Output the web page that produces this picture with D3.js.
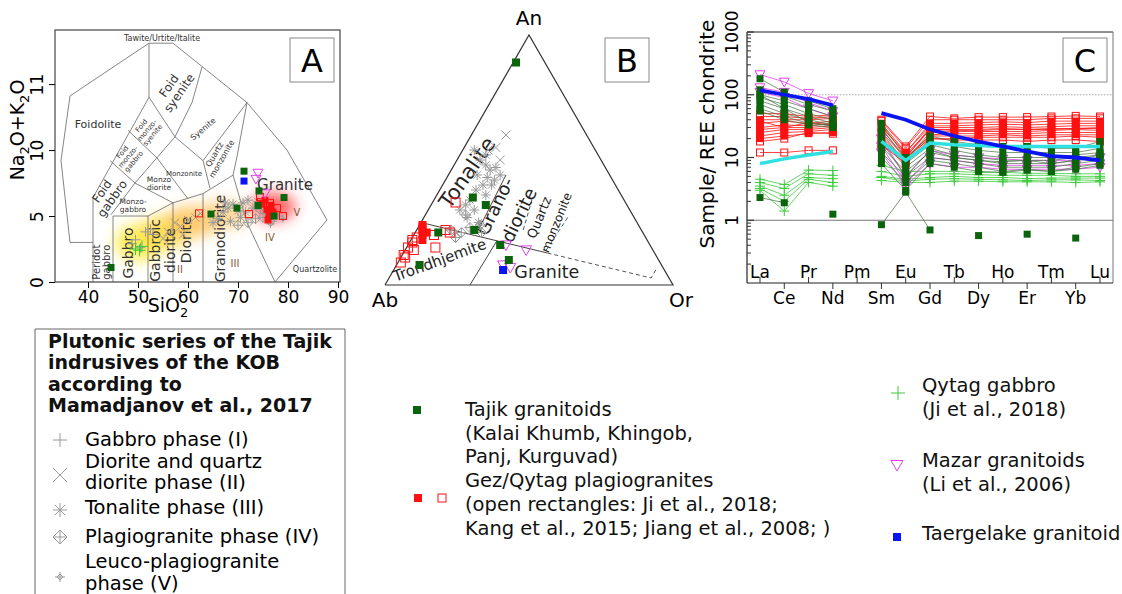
<!DOCTYPE html>
<html>
<head>
<meta charset="utf-8">
<script src="https://cdn.jsdelivr.net/npm/d3@7/dist/d3.min.js"></script>
<style>
  body { margin: 0; background: #fff; }
  svg { display: block; }
  text { font-family: "DejaVu Sans", sans-serif; }
</style>
</head>
<body>
<svg id="fig" width="1122" height="594"></svg>
<script>
'use strict';

// ---------- panel A: TAS (SiO2 vs Na2O+K2O) ----------
const tasTicksX = [40, 50, 60, 70, 80, 90];
const tasTicksY = [0, 5, 10, 15];
const tasTickLabelsY = ['0', '5', '10', '11'];

// field boundaries, [SiO2, alkali]
const tasLines = [
  [[41, 3.0], [36.4, 3.0], [34.6, 9.2], [36.4, 14.1], [52.2, 18.1], [57, 18.1],
   [71.8, 13.6], [79.8, 10], [87.8, 4.7], [77.4, 0]],
  [[41, 0], [41, 6.4]],
  [[45, 0], [45, 5], [52, 5]],
  [[52, 0], [52, 5], [57, 6.0], [63, 6.7], [69, 8.1]],
  [[57, 0], [57, 6.0]],
  [[63, 0], [63, 6.7]],
  [[69, 8.1], [71.8, 4.5], [77.4, 0]],
  [[69, 8.1], [69.8, 9.5], [71.8, 13.6]],
  [[71.8, 13.6], [63, 9.2], [64.4, 7.1]],
  [[57.4, 11], [63, 9.2]],
  [[53.8, 9.4], [60, 6.3]],
  [[52.2, 18.1], [52.2, 14], [41, 6.4]],
  [[52.2, 14], [57.4, 11]],
  [[62.8, 16.3], [60.8, 13.6], [57.4, 11], [49.4, 7.5], [44.6, 5.1]],
  [[49.4, 7.5], [57, 6.0]],
  [[48, 11.5], [53.8, 9.4]],
  [[44.4, 9.2], [49.4, 7.5]]
];

const tasFieldLabels = [
  {t: ['Tawite/Urtite/Italite'], p: [54.8, 18.5], s: 8, r: 0},
  {t: ['Foidolite'], p: [42, 12.0], s: 11, r: 0},
  {t: ['Foid', 'syenite'], p: [57.2, 14.6], s: 12, r: -55},
  {t: ['Foid', 'monzo-', 'syenite'], p: [51.8, 11.5], s: 7, r: -50},
  {t: ['Foid', 'monzo-', 'gabbro'], p: [48, 9.5], s: 7, r: -50},
  {t: ['Foid', 'gabbro'], p: [43.8, 6.6], s: 12, r: -55},
  {t: ['Syenite'], p: [63, 11.6], s: 8, r: -40},
  {t: ['Quartz', 'monzonite'], p: [66, 9.5], s: 8, r: -60},
  {t: ['Monzonite'], p: [59.2, 8.2], s: 7, r: 0},
  {t: ['Monzo', 'diorite'], p: [54.2, 7.5], s: 7.5, r: 0},
  {t: ['Monzo-', 'gabbro'], p: [49, 5.8], s: 7.5, r: 0},
  {t: ['Peridot', 'gabbro'], p: [42.7, 1.5], s: 10, r: -90},
  {t: ['Gabbro'], p: [48, 2.2], s: 14, r: -90},
  {t: ['Gabbroic', 'diorite'], p: [54.9, 2.4], s: 14, r: -90},
  {t: ['Diorite'], p: [59.6, 3.2], s: 14, r: -90},
  {t: ['Granodiorite'], p: [66.4, 3.3], s: 14, r: -90},
  {t: ['Granite'], p: [79.4, 7.4], s: 15, r: 0},
  {t: ['Quartzolite'], p: [85.4, 1.0], s: 8, r: 0}
];
const tasPhaseLabels = [
  {t: 'II', p: [58.4, 0.7]}, {t: 'III', p: [69.4, 1.1]},
  {t: 'IV', p: [76.4, 3.1]}, {t: 'V', p: [81.8, 5.0]}
];

// colour glow of the plutonic series trend
const tasGlow = [[50.4, 3.0], [55.5, 3.8], [61, 4.6], [67, 5.1], [77, 5.7]];

const tasGabbroPhase = [[49.5, 3.2], [50.5, 2.6], [51.5, 3.8], [48.8, 2.9], [52.5, 4.0], [53, 3.6]];
const tasDioritePhase = [[55, 3.3], [57.4, 4.5], [56, 3.8], [58.5, 4.2], [60, 4.7], [61.5, 4.9], [59, 3.6], [62.5, 5.2]];
const tasTonalitePhase = [[66, 4.8], [67, 5.3], [68, 5.6], [69, 5.9], [70, 5.4], [71, 6.0], [72, 6.2],
  [68.5, 4.6], [70.5, 4.9], [73, 5.6], [74, 6.1], [67.5, 6.0], [65, 4.5], [71.5, 5.3]];
const tasPlagioPhase = [[70, 4.3], [72, 4.5], [73.5, 4.8], [75, 4.9], [76, 5.2], [74.5, 5.5]];
const tasLeucoPhase = [[77, 4.6], [78, 5.0], [79, 4.8], [76.5, 4.4]];
const tasQytagGabbro = [[49.5, 2.5], [50.3, 2.4], [50.8, 2.7]];
const tasGezFilled = [[75.8, 5.5], [76.2, 5.0], [76.6, 5.8], [75.4, 6.2], [77, 5.3], [76, 4.7], [74.8, 5.9]];
const tasGezOpen = [[62.2, 5.2], [72.2, 5.15], [74.4, 6.45], [76.4, 6], [77.8, 5.6], [79, 5], [74.6, 6.05]];
const tasMazar = [[74, 8.26], [73.6, 7.8], [75.4, 6.7]];
const tasTajik = [[44.6, 1.1], [71.2, 8.4], [74.2, 6.9], [79.2, 6.4], [69.8, 5.6], [64.6, 5.15], [74, 5.8], [77.2, 5.0]];
const tasTaergelake = [[71.2, 7.65]];

// ---------- panel B: Ab-An-Or, [An %, Or %] ----------
const ternLinesSolid = [
  [[25, 0], [12.8, 50]],
  [[0, 29.5], [17.7, 30]],
  [[21, 21.5], [44, 20]]
];
const ternLinesDashed = [
  [[12.8, 50], [2.8, 91], [6, 91]],
  [[14, 49], [28, 50]],
  [[22, 37], [34, 34]]
];
const ternLabels = [
  {t: 'Tonalite', p: [45, 6], s: 21, r: -55},
  {t: 'Grano-', p: [31.5, 22.5], s: 18, r: -64},
  {t: 'diorite', p: [28, 32.5], s: 18, r: -64},
  {t: 'Quartz', p: [27, 40], s: 13, r: -68},
  {t: 'monzonite', p: [25, 47], s: 12, r: -68},
  {t: 'Trondhjemite', p: [10, 14], s: 15, r: -20},
  {t: 'Granite', p: [5.2, 53.6], s: 17.5, r: 0}
];
const ternTonalitePhase = [[50, 8], [48, 11], [46, 13.5], [44, 10], [43, 14], [47, 15], [40, 14], [40, 17],
  [38, 12.6], [36, 17], [34, 12.5], [32, 12], [30, 11], [30, 16], [27, 15], [25, 20], [42, 17], [44, 18],
  [52, 9], [54, 4]];
const ternDioritePhase = [[60, 12], [55, 11], [50, 15], [54, 8.8]];
const ternPlagioPhase = [[22, 12], [21, 16], [23, 18], [19, 15], [24, 21], [28, 14], [21, 23]];
const ternGezFilled = [[24, 1], [22, 2], [18, 4], [20, 3], [23, 1.5], [21, 4]];
const ternGezOpen = [[12, 0.5], [15, 0.5], [17, 1], [19, 1.5], [15, 10], [21, 12], [22, 10], [33, 8],
  [11, 1.5], [18, 0.5], [9, 1], [14, 3], [20, 7]];
const ternTajik = [[89, 1], [35, 13], [32, 19], [21, 8], [22, 20], [16, 32], [10, 38], [8, 8]];
const ternTaergelake = [[6, 38]];
const ternMazar = [[16, 34], [14, 42], [8, 37], [7, 40]];

// ---------- panel C: REE / chondrite ----------
const ree = ['La', 'Ce', 'Pr', 'Nd', 'Pm', 'Sm', 'Eu', 'Gd', 'Tb', 'Dy', 'Ho', 'Er', 'Tm', 'Yb', 'Lu'];
const reeTicksY = [1, 10, 100, 1000];
const reeTajik = [
  [180, 110, 80, 60, null, 35, 10, 22, 18, 16, 15, 15, 14, 14, 18],
  [120, 95, 70, 55, null, 30, 9, 18, 15, 13, 12, 12, 12, 12, 14],
  [100, 80, 60, 45, null, 25, 8, 16, 13, 11, 10, 10, 10, 11, 12],
  [90, 70, 50, 40, null, 20, 7, 14, 11, 10, 9, 9, 9, 10, 11],
  [80, 60, 45, 35, null, 15, 6, 12, 10, 9, 8, 8, 8, 9, 10],
  [70, 50, 40, 33, null, 12, 5, 10, 9, 8, 7, 7, 7, 8, 9],
  [60, 45, 35, 32, null, 10, 4, 9, 8, 7, 6, 6.5, 6, 7, 8],
  [55, 40, 33, 30, null, 8, 3, 8, 7, 6, 5.8, 6.3, 6, 6.5, 7.5],
  [100, 60, 36, 32, null, 18, 5, 13, 10, 9, 8.5, 9, 8, 9, 11],
  [2.3, 1.9, null, 1.25, null, 0.85, 2.8, 0.7, null, 0.57, null, 0.6, null, 0.52, null]
];
const reeGezOpen = [
  [50, 50, 45, 48, null, 40, 15, 45, 42, 44, 44, 44, 45, 46, 45],
  [45, 45, 42, 45, null, 38, 14, 40, 40, 40, 40, 40, 42, 42, 42],
  [35, 38, 35, 38, null, 30, 12, 32, 32, 33, 34, 33, 34, 35, 35],
  [28, 30, 30, 32, null, 25, 10, 28, 28, 28, 29, 28, 29, 29, 29],
  [22, 25, 26, 28, null, 20, 9, 23, 24, 24, 24, 24, 25, 25, 25],
  [18, 20, 25, 24, null, 16, 8, 20, 20, 21, 21, 21, 21, 22, 21],
  [12, 12, 13, 13, null, 15, 10, 20, 19, 19, 19, 18, 19, 19, 18]
];
const reeGezFilled = [
  [40, 40, 40, 42, null, 35, 12, 35, 35, 36, 37, 36, 38, 38, 38],
  [30, 33, 32, 35, null, 28, 10, 30, 30, 30, 31, 30, 31, 32, 32],
  [25, 28, 28, 30, null, 22, 9, 25, 26, 26, 26, 26, 27, 28, 27],
  [20, 22, 24, 25, null, 18, 8, 22, 22, 22, 23, 22, 23, 23, 23],
  [38, 30, 36, 33, null, 32, 11, 28, 27, 27, 28, 28, 28, 29, 30]
];
const reeQytagGabbro = [
  [4.5, 3.7, 6.3, 6.2, null, 7.5, 6, 6, 6, 5.8, 5.8, 5.6, 5.6, 5.5, 5.5],
  [4, 3.2, 5.5, 5.2, null, 6, 5, 5.5, 5.5, 5.3, 5.2, 5.2, 5.2, 5, 5],
  [3.5, 2.5, 4.8, 4.6, null, 5, 4.5, 4.8, 5, 4.8, 4.8, 4.6, 4.7, 4.7, 4.7],
  [3.2, 2, 4.5, 4, null, 4.8, 4.2, 4.5, 4.6, 4.5, 4.4, 4.3, 4.4, 4.4, 4.3],
  [3, 1.4, 4, 3.5, null, 4.3, 4, 4, 4.2, 4.2, 4.1, 4.1, 4.1, 4, 4.1]
];
const reeMazar = [
  [210, 160, 105, 80, null, 20, 5, 13, 11, 10, 9.5, 9, 9, 9, 10],
  [130, 110, 75, 55, null, 15, 4, 10, 9, 8, 7.5, 7.5, 7.5, 7.5, 8],
  [110, 90, 60, 45, null, 12, 3.5, 8, 7, 7, 6.5, 6.5, 6.5, 6.5, 7]
];
const reeTaergelake = [118, 100, 85, 68, null, 51, 40, 28, 22, 18, 15, 12.5, 10.5, 10, 9];
const reeReference = [8, 9.5, 11, 12.5, null, 18, 9, 17, 16, 15.5, 15, 15, 15, 15, 15];

// ---------- legends ----------
const legendTitle = ['Plutonic series of the Tajik', 'indrusives of the KOB', 'according to',
  'Mamadjanov et al., 2017'];
const legendPhases = [
  {k: 'plus', t: ['Gabbro phase (I)']},
  {k: 'cross', t: ['Diorite and quartz', 'diorite phase (II)']},
  {k: 'star', t: ['Tonalite phase (III)']},
  {k: 'dplus', t: ['Plagiogranite phase (IV)']},
  {k: 'dsmall', t: ['Leuco-plagiogranite', 'phase (V)']}
];
const legendTajik = ['Tajik granitoids', '(Kalai Khumb, Khingob,', 'Panj, Kurguvad)'];
const legendGez = ['Gez/Qytag plagiogranites', '(open rectangles: Ji et al., 2018;',
  'Kang et al., 2015; Jiang et al., 2008; )'];
const legendQytag = ['Qytag gabbro', '(Ji et al., 2018)'];
const legendMazar = ['Mazar granitoids', '(Li et al., 2006)'];
const legendTaerg = ['Taergelake granitoid'];

// ---------- drawing ----------
const GREEN = '#0b640b', RED = '#ff1010', MAG = '#e040e8', BLUE = '#0a14f0',
      LGREEN = '#3ccc3c', GREY = '#9a9a9a', CYAN = '#2ee0e0';

const svg = d3.select('#fig');
svg.append('rect').attr('width', 1122).attr('height', 594).attr('fill', '#fff');

const defs = svg.append('defs');
defs.append('filter').attr('id', 'blur').attr('x', '-50%').attr('y', '-50%')
  .attr('width', '200%').attr('height', '200%')
  .append('feGaussianBlur').attr('stdDeviation', 7);

function symbol(sel, kind, x, y, r, color) {
  const g = sel.append('g').attr('transform', `translate(${x},${y})`);
  const st = p => p.attr('fill', 'none').attr('stroke', color).attr('stroke-width', 1);
  if (kind === 'plus') st(g.append('path').attr('d', `M${-r},0H${r}M0,${-r}V${r}`));
  else if (kind === 'cross') st(g.append('path').attr('d', `M${-r},${-r}L${r},${r}M${-r},${r}L${r},${-r}`));
  else if (kind === 'star') {
    const q = r * 0.72;
    st(g.append('path').attr('d', `M${-r},0H${r}M0,${-r}V${r}M${-q},${-q}L${q},${q}M${-q},${q}L${q},${-q}`));
  } else if (kind === 'dplus' || kind === 'dsmall') {
    const d = kind === 'dsmall' ? r * 0.6 : r;
    st(g.append('path').attr('d', `M0,${-d}L${d},0L0,${d}L${-d},0ZM${-r},0H${r}M0,${-r}V${r}`));
  } else if (kind === 'sq') {
    g.append('rect').attr('x', -r).attr('y', -r).attr('width', 2 * r).attr('height', 2 * r).attr('fill', color);
  } else if (kind === 'osq') {
    st(g.append('rect').attr('x', -r).attr('y', -r).attr('width', 2 * r).attr('height', 2 * r));
  } else if (kind === 'tri') {
    st(g.append('path').attr('d', `M${-r},${-r * 0.75}L${r},${-r * 0.75}L0,${r}Z`));
  }
  return g;
}

function multiText(sel, lines, x, y, size, lh, opts = {}) {
  const t = sel.append('text').attr('x', x).attr('y', y).attr('font-size', size)
    .attr('fill', opts.fill || '#111').attr('text-anchor', opts.anchor || 'start')
    .attr('font-weight', opts.weight || 'normal');
  lines.forEach((s, i) => t.append('tspan').attr('x', x).attr('dy', i === 0 ? 0 : lh).text(s));
  return t;
}

function panelLetter(x, y, letter) {
  svg.append('rect').attr('x', x).attr('y', y).attr('width', 44).attr('height', 44)
    .attr('fill', '#fff').attr('stroke', '#888');
  svg.append('text').attr('x', x + 22).attr('y', y + 34).attr('text-anchor', 'middle')
    .attr('font-size', 32).text(letter);
}

// ===== Panel A =====
const xA = d3.scaleLinear().domain([33.4, 90.4]).range([55, 340]);
const yA = d3.scaleLinear().domain([0, 19.1]).range([282, 30]);
const gA = svg.append('g');
defs.append('clipPath').attr('id', 'clipA').append('rect')
  .attr('x', 55).attr('y', 30).attr('width', 285).attr('height', 252);

const glowColors = ['#ffe830', '#ffd840', '#ffc050', '#ffcf80', '#ff3030'];
const glowR = [[5, 1.4], [5, 1.3], [5.5, 1.2], [5, 1.1], [4.5, 1.1]];
const glowG = gA.append('g').attr('clip-path', 'url(#clipA)').attr('filter', 'url(#blur)');
tasGlow.forEach((c, i) => {
  glowG.append('ellipse').attr('cx', xA(c[0])).attr('cy', yA(c[1]))
    .attr('rx', xA(c[0] + glowR[i][0]) - xA(c[0])).attr('ry', yA(0) - yA(glowR[i][1]))
    .attr('fill', glowColors[i]).attr('opacity', i === 4 ? 0.75 : 0.8);
});

const lineA = d3.line().x(d => xA(d[0])).y(d => yA(d[1]));
gA.append('g').selectAll('path').data(tasLines).join('path')
  .attr('d', lineA).attr('fill', 'none').attr('stroke', '#666').attr('stroke-width', 0.8);

tasFieldLabels.forEach(l => {
  const x = xA(l.p[0]), y = yA(l.p[1]);
  const lh = l.s * 1.05;
  const t = multiText(gA, l.t, 0, 0, l.s, lh, {anchor: 'middle', fill: '#333'})
    .attr('font-family', 'Liberation Sans, Arial, sans-serif')
    .attr('transform', `translate(${x},${y}) rotate(${l.r})`);
  t.select('tspan').attr('dy', -(l.t.length - 1) * lh / 2 + l.s * 0.35);
});
tasPhaseLabels.forEach(l => {
  gA.append('text').attr('x', xA(l.p[0])).attr('y', yA(l.p[1])).attr('text-anchor', 'middle')
    .attr('font-family', 'DejaVu Serif, serif').attr('font-size', 10).attr('fill', '#8a5a30').text(l.t);
});

const ptsA = gA.append('g').attr('clip-path', 'url(#clipA)');
tasGabbroPhase.forEach(d => symbol(ptsA, 'plus', xA(d[0]), yA(d[1]), 5, GREY));
tasDioritePhase.forEach(d => symbol(ptsA, 'cross', xA(d[0]), yA(d[1]), 4, GREY));
tasTonalitePhase.forEach(d => symbol(ptsA, 'star', xA(d[0]), yA(d[1]), 5, GREY));
tasPlagioPhase.forEach(d => symbol(ptsA, 'dplus', xA(d[0]), yA(d[1]), 5, GREY));
tasLeucoPhase.forEach(d => symbol(ptsA, 'dsmall', xA(d[0]), yA(d[1]), 4, GREY));
tasQytagGabbro.forEach(d => symbol(ptsA, 'plus', xA(d[0]), yA(d[1]), 6, LGREEN));
tasGezOpen.forEach(d => symbol(ptsA, 'osq', xA(d[0]), yA(d[1]), 3.5, RED));
tasGezFilled.forEach(d => symbol(ptsA, 'sq', xA(d[0]), yA(d[1]), 3.5, RED));
tasMazar.forEach(d => symbol(ptsA, 'tri', xA(d[0]), yA(d[1]), 5, MAG));
tasTajik.forEach(d => symbol(ptsA, 'sq', xA(d[0]), yA(d[1]), 3.5, GREEN));
tasTaergelake.forEach(d => symbol(ptsA, 'sq', xA(d[0]), yA(d[1]), 3.5, BLUE));

gA.append('rect').attr('x', 55).attr('y', 30).attr('width', 285).attr('height', 252)
  .attr('fill', 'none').attr('stroke', '#444').attr('stroke-width', 1.2);
const axA = gA.append('g').attr('transform', 'translate(0,282)')
  .call(d3.axisBottom(xA).tickValues(tasTicksX).tickSize(6).tickPadding(3));
axA.select('.domain').remove();
axA.selectAll('text').attr('font-size', 17).attr('font-family', 'DejaVu Sans');
const ayA = gA.append('g').attr('transform', 'translate(55,0)')
  .call(d3.axisLeft(yA).tickValues(tasTicksY).tickSize(6)
    .tickFormat((d, i) => tasTickLabelsY[i]));
ayA.select('.domain').remove();
ayA.selectAll('text').attr('font-size', 17).attr('font-family', 'DejaVu Sans')
  .attr('transform', 'rotate(-90)').attr('x', 0).attr('y', -18).attr('dy', '0.35em')
  .attr('text-anchor', 'middle');
gA.append('text').attr('x', 168).attr('y', 312).attr('text-anchor', 'middle').attr('font-size', 19)
  .html('SiO<tspan font-size="13" dy="5">2</tspan>');
gA.append('text').attr('transform', 'translate(24,130) rotate(-90)').attr('text-anchor', 'middle')
  .attr('font-size', 19)
  .html('Na<tspan font-size="13" dy="5">2</tspan><tspan dy="-5">O+K</tspan><tspan font-size="13" dy="5">2</tspan><tspan dy="-5">O</tspan>');
panelLetter(290, 38, 'A');

// ===== Panel B =====
const tx = d3.scaleLinear().domain([0, 100]).range([385, 673]);
const ty = d3.scaleLinear().domain([0, 100]).range([285, 35]);
const tern = (an, or) => [tx(or + an / 2), ty(an)];
const gB = svg.append('g');
const lineB = d3.line().x(d => tern(d[0], d[1])[0]).y(d => tern(d[0], d[1])[1]);
gB.append('path').datum([[0, 0], [0, 100], [100, 0], [0, 0]]).attr('d', lineB)
  .attr('fill', 'none').attr('stroke', '#333').attr('stroke-width', 1.2);
gB.selectAll('.ls').data(ternLinesSolid).join('path').attr('d', lineB)
  .attr('fill', 'none').attr('stroke', '#444').attr('stroke-width', 1);
gB.selectAll('.ld').data(ternLinesDashed).join('path').attr('d', lineB)
  .attr('fill', 'none').attr('stroke', '#555').attr('stroke-width', 1).attr('stroke-dasharray', '4,3');

const cornerLabels = [['An', 100, 0, 0, -10], ['Ab', 0, 0, 0, 22], ['Or', 0, 100, 8, 22]];
cornerLabels.forEach(c => {
  const p = tern(c[1], c[2]);
  gB.append('text').attr('x', p[0] + c[3]).attr('y', p[1] + c[4]).attr('text-anchor', 'middle')
    .attr('font-size', 20).text(c[0]);
});

ternLabels.forEach(l => {
  const p = tern(l.p[0], l.p[1]);
  gB.append('text').attr('transform', `translate(${p[0]},${p[1]}) rotate(${l.r})`)
    .attr('text-anchor', 'middle').attr('dy', '0.35em').attr('font-size', l.s).attr('fill', '#222').text(l.t);
});

const tp = (d) => tern(d[0], d[1]);
ternTonalitePhase.forEach(d => symbol(gB, 'star', tp(d)[0], tp(d)[1], 5, GREY));
ternDioritePhase.forEach(d => symbol(gB, 'cross', tp(d)[0], tp(d)[1], 4.5, GREY));
ternPlagioPhase.forEach(d => symbol(gB, 'dplus', tp(d)[0], tp(d)[1], 5, GREY));
ternGezOpen.forEach(d => symbol(gB, 'osq', tp(d)[0], tp(d)[1], 4.5, RED));
ternGezFilled.forEach(d => symbol(gB, 'sq', tp(d)[0], tp(d)[1], 4, RED));
ternMazar.forEach(d => symbol(gB, 'tri', tp(d)[0], tp(d)[1], 5.5, MAG));
ternTajik.forEach(d => symbol(gB, 'sq', tp(d)[0], tp(d)[1], 4, GREEN));
ternTaergelake.forEach(d => symbol(gB, 'sq', tp(d)[0], tp(d)[1], 4, BLUE));
panelLetter(605, 38, 'B');

// ===== Panel C =====
const xC = d3.scalePoint().domain(ree).range([760, 1100]);
const yC = d3.scaleLog().domain([0.1, 1000]).range([283, 32]);
const gC = svg.append('g');
gC.append('line').attr('x1', 747).attr('x2', 1113).attr('y1', yC(100)).attr('y2', yC(100))
  .attr('stroke', '#aaa').attr('stroke-dasharray', '1.5,1.5');
gC.append('line').attr('x1', 747).attr('x2', 1113).attr('y1', yC(1)).attr('y2', yC(1))
  .attr('stroke', '#777').attr('stroke-width', 1);

const lineC = d3.line().defined(d => d != null).x((d, i) => xC(ree[i])).y(d => yC(d));
function reeSeries(data, stroke, width, kind, r, mcolor) {
  const g = gC.append('g');
  data.forEach(row => {
    g.append('path').datum(row).attr('d', lineC).attr('fill', 'none')
      .attr('stroke', stroke).attr('stroke-width', width);
  });
  if (kind) data.forEach(row => row.forEach((v, i) => {
    if (v != null) symbol(g, kind, xC(ree[i]), yC(v), r, mcolor);
  }));
}
reeSeries(reeGezOpen, RED, 0.8, 'osq', 3.5, RED);
reeSeries(reeGezFilled, RED, 0.8, 'sq', 3.5, RED);
reeSeries(reeQytagGabbro, LGREEN, 0.8, 'plus', 5, LGREEN);
reeSeries(reeMazar, MAG, 0.8, 'tri', 5, MAG);
reeSeries(reeTajik, '#3f6f3f', 0.7, 'sq', 3.5, GREEN);
reeSeries([reeReference], CYAN, 3.5, null);
reeSeries([reeTaergelake], BLUE, 3.8, null);

// frame and axes
gC.append('line').attr('x1', 747).attr('x2', 1113).attr('y1', 32).attr('y2', 32).attr('stroke', '#222').attr('stroke-width', 1.2);
gC.append('line').attr('x1', 1113).attr('x2', 1113).attr('y1', 32).attr('y2', 283).attr('stroke', '#777');
gC.append('line').attr('x1', 747).attr('x2', 1113).attr('y1', 283).attr('y2', 283).attr('stroke', '#222').attr('stroke-width', 1.2);
gC.append('line').attr('x1', 747).attr('x2', 747).attr('y1', 32).attr('y2', 283).attr('stroke', '#222').attr('stroke-width', 1.2);

const minor = [];
for (let e = -1; e < 3; e++) for (let m = 2; m < 10; m++) minor.push(m * Math.pow(10, e));
gC.selectAll('.mn').data(minor).join('line').attr('x1', 747).attr('x2', 751)
  .attr('y1', d => yC(d)).attr('y2', d => yC(d)).attr('stroke', '#333');
gC.selectAll('.mj').data(reeTicksY).join('line').attr('x1', 747).attr('x2', 754)
  .attr('y1', d => yC(d)).attr('y2', d => yC(d)).attr('stroke', '#333').attr('stroke-width', 1.2);
gC.selectAll('.yl').data(reeTicksY).join('text')
  .attr('transform', d => `translate(738,${yC(d)}) rotate(-90)`).attr('text-anchor', 'middle')
  .attr('font-size', 17).text(d => String(d));

ree.forEach((el, i) => {
  const x = xC(el), up = i % 2 === 0;
  gC.append('line').attr('x1', x).attr('x2', x).attr('y1', 283).attr('y2', up ? 277 : 289)
    .attr('stroke', '#333');
  gC.append('text').attr('x', x).attr('y', up ? 278 : 304).attr('text-anchor', 'middle')
    .attr('font-size', 17).text(el);
});
gC.append('text').attr('transform', 'translate(714,134) rotate(-90)').attr('text-anchor', 'middle')
  .attr('font-size', 20).text('Sample/ REE chondrite');
panelLetter(1063, 38, 'C');

// ===== Legends =====
const FS = 19.5;
const gL = svg.append('g');
gL.append('path').attr('d', 'M35,600V329H345V600').attr('fill', 'none').attr('stroke', '#666');
multiText(gL, legendTitle, 48, 348, 19, 21.3, {weight: 'bold'});
const phaseY = [[446], [468, 489], [514], [543], [568, 590]];
const phaseSymY = [440, 475, 510, 537, 577];
legendPhases.forEach((p, i) => {
  symbol(gL, p.k, 60, phaseSymY[i], p.k === 'dsmall' ? 5 : 7, GREY);
  p.t.forEach((s, j) => gL.append('text').attr('x', 85).attr('y', phaseY[i][j]).attr('font-size', FS).text(s));
});

symbol(gL, 'sq', 417, 410, 4, GREEN);
multiText(gL, legendTajik, 465, 416, FS, 23.7);
symbol(gL, 'sq', 418, 498, 4, RED);
symbol(gL, 'osq', 442, 498, 4, RED);
multiText(gL, legendGez, 465, 487, FS, 24);

symbol(gL, 'plus', 898, 393, 7, LGREEN);
multiText(gL, legendQytag, 922, 392, FS, 24);
symbol(gL, 'tri', 897, 465, 6, MAG);
multiText(gL, legendMazar, 922, 467, FS, 23.5);
symbol(gL, 'sq', 897, 537, 4, BLUE);
multiText(gL, legendTaerg, 922, 540, FS, 23);
</script>
</body>
</html>
